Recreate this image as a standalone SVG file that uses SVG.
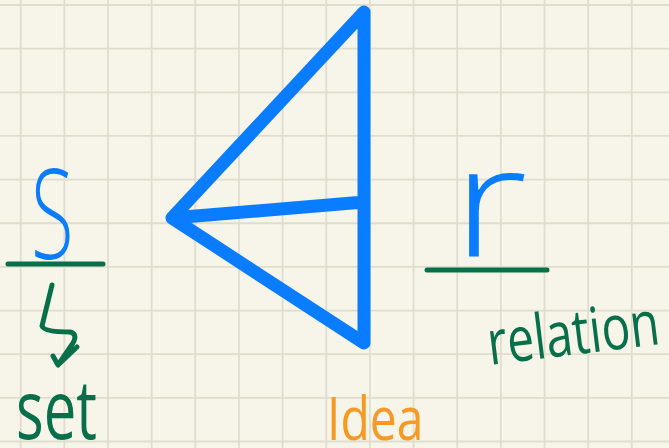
<svg xmlns="http://www.w3.org/2000/svg" width="669" height="448" viewBox="0 0 669 448">
<style>
.grid{stroke:#e0ddcf;stroke-width:1.8;fill:none}
.blue{stroke:#0a7cff;fill:none;stroke-linecap:round;stroke-linejoin:round}
.green{stroke:#07704a;fill:none;stroke-linecap:round;stroke-linejoin:round}
.hand{font-family:"Open Sans","Liberation Sans",sans-serif;font-weight:300}
.reg{font-weight:400}
.tb{fill:#0a7cff}
.tg{fill:#07704a}
.to{fill:#f59b25}
</style>
<rect width="669" height="448" fill="#f7f5e9"/>
<g id="grid" class="grid">
<path d="M20.7,0V448M64.35,0V448M108,0V448M151.65,0V448M195.3,0V448M238.95,0V448M282.6,0V448M326.25,0V448M369.9,0V448M413.55,0V448M457.2,0V448M500.85,0V448M544.5,0V448M588.15,0V448M631.8,0V448"/>
<path d="M0,5H669M0,48.65H669M0,92.3H669M0,135.95H669M0,179.6H669M0,223.25H669M0,266.9H669M0,310.55H669M0,354.2H669M0,397.85H669M0,441.5H669"/>
</g>
<g id="triangle">
<path class="blue" stroke-width="13" d="M364,202 L172,218 L364,343 L364,12 L172,218"/>
</g>
<g id="set-symbol">
<text class="hand tb" font-size="100" transform="translate(31,259) scale(0.78,1.26)">S</text>
<path class="green" stroke-width="5" d="M8,264 H103"/>
<path class="green" stroke-width="5" d="M52,285 L42,326 Q44,332 70,332 Q78,334 73,343 L58,365 M53,356 L58,365 L77,347"/>
<text class="hand reg tg" font-size="58" transform="translate(16,439) scale(1,1.42)">set</text>
</g>
<g id="relation-symbol">
<text class="hand tb" font-size="155" transform="translate(452,257) scale(1.25,1)">r</text>
<path class="green" stroke-width="5" d="M427,270 H547"/>
<text class="hand reg tg" font-size="48" transform="translate(490,365) rotate(-7) scale(1,1.3)">relation</text>
</g>
<g id="idea">
<text class="hand reg to" font-size="48" transform="translate(327,440) scale(1,1.25)">Idea</text>
</g>
</svg>
